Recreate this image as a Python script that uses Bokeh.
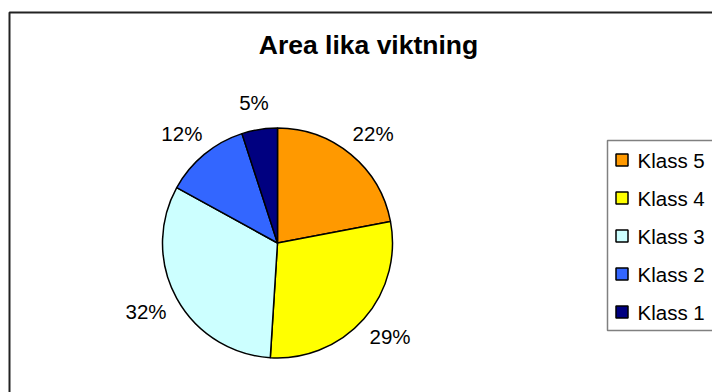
import numpy as np
from bokeh.plotting import figure
from bokeh.models import ColumnDataSource, Range1d
from bokeh.core.properties import value
from bokeh.embed import file_html
from bokeh.resources import INLINE

# ---- data ----
categories = ["Klass 5", "Klass 4", "Klass 3", "Klass 2", "Klass 1"]
shares = [22, 29, 32, 12, 5]
colors = ["#FF9900", "#FFFF00", "#CCFFFF", "#3366FF", "#000080"]
title_text = "Area lika viktning"

W, H = 712, 392
FONT = "Liberation Sans"

p = figure(width=W, height=H, output_backend="svg", toolbar_location=None,
           x_range=Range1d(0, W), y_range=Range1d(0, H), min_border=0)
p.axis.visible = False
p.grid.visible = False
p.outline_line_color = None
p.background_fill_color = "white"
p.border_fill_color = "white"

def Y(y):
    return H - y

# outer chart frame (left and top edges visible)
p.line([9, 9, W + 5], [Y(H + 5), Y(12), Y(12)], line_color="#222222", line_width=2)

# title
p.text(x=[368], y=[Y(44)], text=[title_text], text_font=value(FONT),
       text_font_size="26.5px", text_font_style="bold", text_align="center",
       text_baseline="middle", text_color="black")

# pie
cx, cy, r = 277, Y(242.5), 115
vals = np.array(shares, dtype=float)
frac = vals / vals.sum()
cum_end = np.cumsum(frac)
cum_start = cum_end - frac
start = np.pi / 2 - 2 * np.pi * cum_end
end = np.pi / 2 - 2 * np.pi * cum_start
mid = (start + end) / 2
lrx, lry = 150, 142
src = ColumnDataSource(dict(start=start, end=end, color=colors,
                            lx=cx + lrx * np.cos(mid), ly=cy + lry * np.sin(mid),
                            lab=[f"{v:.0f}%" for v in vals]))
p.wedge(x=cx, y=cy, radius=r, start_angle="start", end_angle="end",
        fill_color="color", line_color="black", line_width=1.5, source=src)
p.text(x="lx", y="ly", text="lab", source=src, text_font=value(FONT),
       text_font_size="20.5px", text_align="center", text_baseline="middle",
       text_color="black")

# legend
p.line([W + 5, 607, 607, W + 5], [Y(140), Y(140), Y(330), Y(330)],
       line_color="#808080", line_width=1.5)
leg_y = [Y(159.5 + 38 * i) for i in range(len(categories))]
leg = ColumnDataSource(dict(y=leg_y, color=colors, lab=categories))
p.rect(x=621.5, y="y", width=12, height=12, fill_color="color",
       line_color="black", line_width=1.5, source=leg)
p.text(x=637, y="y", text="lab", source=leg, text_font=value(FONT),
       text_font_size="20.5px", text_align="left", text_baseline="middle",
       text_color="black")

open("out.html", "w").write(file_html(p, INLINE))
